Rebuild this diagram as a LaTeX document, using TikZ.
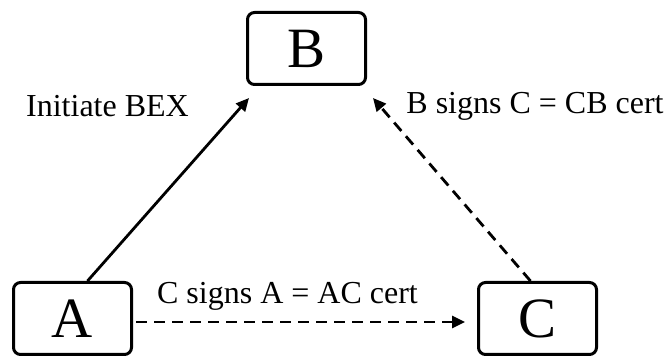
\documentclass[tikz,border=0pt]{standalone}
\usepackage{fontspec}
\setmainfont{Liberation Serif}
\usetikzlibrary{arrows.meta}
\begin{document}
\begin{tikzpicture}[x=1pt,y=1pt,
  party/.style={draw=black,line width=3pt,rounded corners=7pt,minimum width=118pt,minimum height=72pt,inner sep=0pt,font=\fontsize{57}{60}\selectfont},
  lbl/.style={inner sep=0pt,font=\fontsize{32}{36}\selectfont},
  conn/.style={line width=2.8pt,-{Triangle[length=13pt,width=12pt]}},
  dconn/.style={conn,dash pattern=on 11pt off 7pt}]
\useasboundingbox (0,0) rectangle (665,356);
\node[party] (B) at (306.5,307.5) {B};
\node[party] (A) at (72.5,37.5) {A};
\node[party] (C) at (537.5,37.5) {C};
\draw[conn] ([xshift=15pt]A.north) -- ([shift={(3pt,-12pt)}]B.south west);
\draw[dconn] ([xshift=-7pt]C.north) -- ([shift={(6pt,-12pt)}]B.south east);
\draw[dconn] ([shift={(3pt,-3.5pt)}]A.east) -- ([shift={(-12pt,-3.5pt)}]C.west);
\node[lbl] (l1) at (107.5,250) {Initiate BEX};
\node[lbl] (l2) at (535,250) {B signs C = CB cert};
\node[lbl] (l3) at (287.5,60) {C signs A = AC cert};
\end{tikzpicture}
\end{document}
